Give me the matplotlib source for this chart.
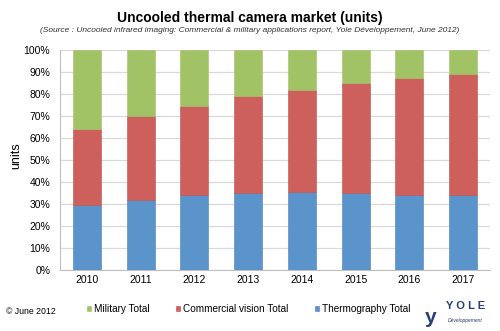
import matplotlib.pyplot as plt
import matplotlib.ticker as mtick

plt.rcParams["font.family"] = ["Liberation Sans", "DejaVu Sans"]

years = ["2010", "2011", "2012", "2013", "2014", "2015", "2016", "2017"]
thermography = [29.2, 31.7, 33.8, 34.8, 35.5, 35.0, 33.8, 33.8]
commercial = [34.8, 38.3, 40.7, 44.2, 46.3, 49.8, 53.3, 55.3]
military = [36.0, 30.0, 25.5, 21.0, 18.2, 15.2, 12.9, 10.9]

c_blue = "#5b93cb"
c_red = "#cd605c"
c_green = "#a2c266"
c_logo = "#2a3f78"

fig = plt.figure(figsize=(5.0, 3.31), dpi=100)
ax = fig.add_axes([0.12, 0.185, 0.86, 0.665])

x = range(len(years))
w = 0.52
ax.bar(x, thermography, w, color=c_blue, edgecolor="#4a80bb", linewidth=0.4,
       label="Thermography Total", zorder=3)
bottom2 = [a for a in thermography]
ax.bar(x, commercial, w, bottom=bottom2, color=c_red, edgecolor="#c0504d",
       linewidth=0.4, label="Commercial vision Total", zorder=3)
bottom3 = [a + b for a, b in zip(thermography, commercial)]
ax.bar(x, military, w, bottom=bottom3, color=c_green, edgecolor=c_green,
       linewidth=0.4, label="Military Total", zorder=3)

ax.set_xlim(-0.5, len(years) - 0.5)
ax.set_ylim(0, 100)
ax.set_yticks(range(0, 101, 10))
ax.yaxis.set_major_formatter(mtick.PercentFormatter(xmax=100, decimals=0))
ax.set_xticks(list(x))
ax.set_xticklabels(years)
ax.tick_params(axis="both", labelsize=7.5, length=0, pad=4)
ax.tick_params(axis="y", pad=7)
ax.grid(axis="y", color="#d9d9d9", linewidth=0.9, zorder=0)
for s in ["top", "right"]:
    ax.spines[s].set_visible(False)
ax.spines["left"].set_color("#bfbfbf")
ax.spines["bottom"].set_color("#bfbfbf")
ax.set_ylabel("units", fontsize=9)
ax.yaxis.set_label_coords(-0.088, 0.52)

fig.text(0.5, 0.945, "Uncooled thermal camera market (units)", ha="center",
         va="center", fontsize=10, fontweight="bold")
fig.text(0.5, 0.908,
         "(Source : Uncooled infrared imaging: Commercial & military applications report, Yole Développement, June 2012)",
         ha="center", va="center", fontsize=6, style="italic", color="#333333")

handles, labels = ax.get_legend_handles_labels()
fig.legend(handles[::-1], labels[::-1], loc="center", bbox_to_anchor=(0.497, 0.066),
           ncol=3, frameon=False, fontsize=7.2, handlelength=0.45, handleheight=0.45,
           handletextpad=0.3, columnspacing=2.6)

fig.text(0.012, 0.058, "© June 2012", fontsize=6.3, va="center", ha="left")

# Yole logo
fig.text(0.893, 0.075, "Y O L E", fontsize=8, fontweight="bold", color=c_logo,
         va="center", ha="left")
fig.text(0.895, 0.033, "Développement", fontsize=3.6, style="italic", color=c_logo,
         va="center", ha="left")
fig.text(0.85, 0.04, "y", fontsize=15, fontweight="bold", color=c_logo,
         va="center", ha="left")

fig.savefig("out.png", dpi=100)
